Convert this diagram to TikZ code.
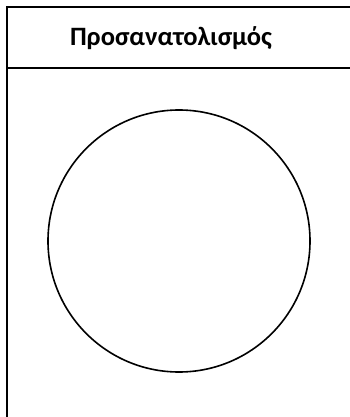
\documentclass[tikz,border=0pt]{standalone}
\usepackage{fontspec}
\setmainfont{Carlito}[BoldFont={Carlito Bold}]
\begin{document}
\begin{tikzpicture}[x=1pt,y=-1pt,
  frameline/.style={line width=2.4pt,black},
  circline/.style={line width=1.6pt,black}]
\useasboundingbox (0,0) rectangle (350,417);
\draw[frameline] (7,420) -- (7,7) -- (355,7);
\draw[frameline] (7,68) -- (355,68);
\node[font=\fontsize{26.5}{30}\selectfont\bfseries] (title) at (171,38) {Προσανατολισμός};
\node[circle,draw,circline,minimum size=262pt,inner sep=0pt] (c) at (179,241) {};
\end{tikzpicture}
\end{document}
